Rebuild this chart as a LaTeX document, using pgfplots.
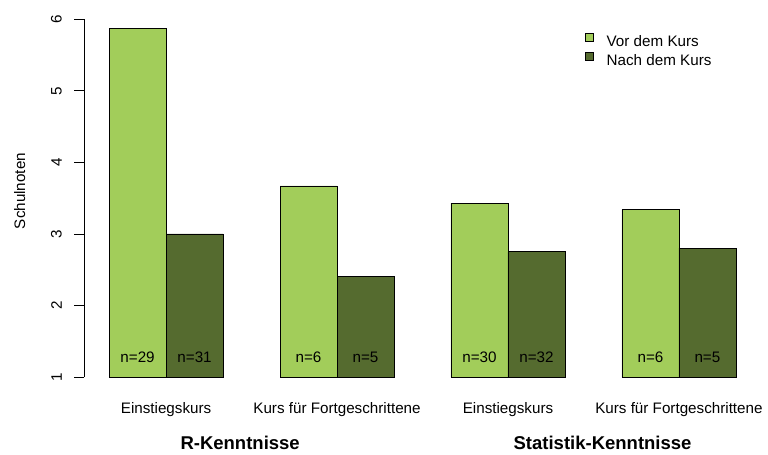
\documentclass[border=0pt]{standalone}
\usepackage{fontspec}
\setmainfont{Liberation Sans}
\usepackage{pgfplots}
\pgfplotsset{compat=1.18}
\definecolor{vor}{HTML}{A2CD5A}
\definecolor{nach}{HTML}{556B2F}
\newcommand\rf{\fontsize{15.2bp}{18bp}\selectfont}
\newcommand\rb{\fontsize{18.5bp}{20bp}\selectfont\bfseries}
\begin{document}
\begin{tikzpicture}
\useasboundingbox (-84bp,-78bp) rectangle (684bp,377bp);
\begin{axis}[
  at={(0,0)}, anchor=south west,
  width=677bp, height=372bp, scale only axis,
  xmin=0.56, xmax=12.44, ymin=1, ymax=6.2,
  axis line style={draw=none},
  clip mode=individual,
  xtick={2,5,8,11},
  xticklabels={Einstiegskurs, Kurs für Fortgeschrittene, Einstiegskurs, Kurs für Fortgeschrittene},
  xtick style={draw=none},
  xticklabel style={font=\rf, anchor=base, yshift=-26.5bp, inner sep=0pt},
  ytick={1,2,3,4,5,6},
  ytick pos=left,
  tick align=outside,
  major tick length=9.5bp,
  ytick style={black, line width=0.8bp},
  yticklabel style={font=\rf, rotate=90, anchor=south, inner sep=0pt},
  yticklabel shift=12.5bp,
  /pgf/number format/assume math mode=true,
  ylabel={Schulnoten},
  ylabel style={font=\rf, at={(axis description cs:-0.0871,0.5)}, anchor=base},
  legend style={draw=none, fill=none, at={(axis description cs:0.740,0.9248)}, anchor=north west,
    inner sep=0pt, outer sep=0pt, row sep=4bp, column sep=13bp, font=\rf, nodes={inner sep=0pt}},
  legend cell align=left,
  legend image code/.code={\draw[#1, line width=0.7bp] (0bp,0.5bp) rectangle (8bp,8.5bp);},
]
\addplot[ybar, bar width=1, bar shift=-0.5, fill=vor, draw=black, line width=0.7bp]
  coordinates {(2,5.87) (5,3.67) (8,3.43) (11,3.34)};
\addlegendentry{Vor dem Kurs}
\addplot[ybar, bar width=1, bar shift=0.5, fill=nach, draw=black, line width=0.7bp]
  coordinates {(2,3.00) (5,2.40) (8,2.75) (11,2.80)};
\addlegendentry{Nach dem Kurs}
\draw[black, line width=0.8bp] (axis cs:0.56,1) -- (axis cs:0.56,6);
\node[font=\rf, anchor=base] at (axis cs:1.5,1.2) {n=29};
\node[font=\rf, anchor=base] at (axis cs:2.5,1.2) {n=31};
\node[font=\rf, anchor=base] at (axis cs:4.5,1.2) {n=6};
\node[font=\rf, anchor=base] at (axis cs:5.5,1.2) {n=5};
\node[font=\rf, anchor=base] at (axis cs:7.5,1.2) {n=30};
\node[font=\rf, anchor=base] at (axis cs:8.5,1.2) {n=32};
\node[font=\rf, anchor=base] at (axis cs:10.5,1.2) {n=6};
\node[font=\rf, anchor=base] at (axis cs:11.5,1.2) {n=5};
\node[font=\rb, anchor=base, yshift=-72bp] at (axis cs:3.30,1) {R-Kenntnisse};
\node[font=\rb, anchor=base, yshift=-72bp] at (axis cs:9.66,1) {Statistik-Kenntnisse};
\end{axis}
\end{tikzpicture}
\end{document}
